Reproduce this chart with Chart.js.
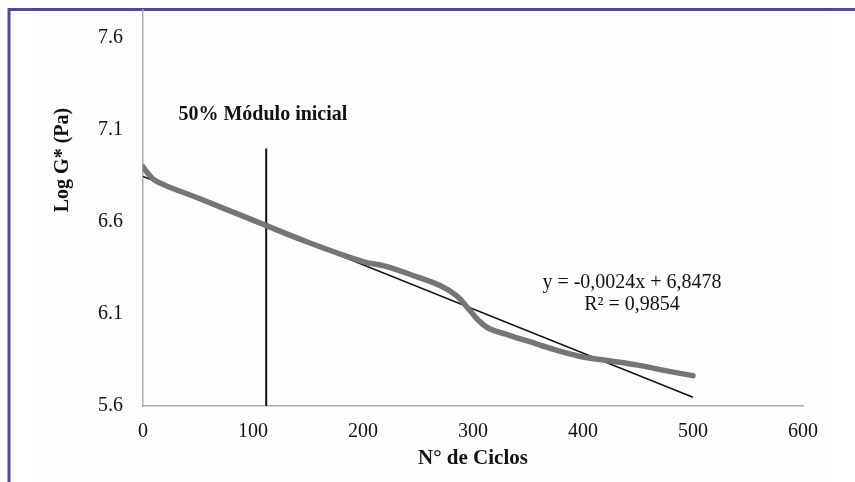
<!DOCTYPE html>
<html lang="pt">
<head>
    <meta charset="UTF-8">
    <title>Log G* x N° de Ciclos</title>
    <script src="https://cdn.jsdelivr.net/npm/chart.js@4.4.1/dist/chart.umd.min.js"></script>
    <style>
        html, body { margin: 0; padding: 0; background: #ffffff; }
        #wrap { width: 855px; height: 482px; }
    </style>
</head>
<body>
    <div id="wrap"><canvas id="myChart" width="855" height="482"></canvas></div>

    <script>
        var cycles = [0, 5, 10, 20, 50, 100, 150, 200, 220, 250, 270, 285, 295, 305, 315, 330, 350, 375, 400, 425, 450, 475, 500];
        var logG = [6.90, 6.86, 6.83, 6.80, 6.73, 6.61, 6.49, 6.385, 6.36, 6.30, 6.255, 6.20, 6.135, 6.065, 6.02, 5.99, 5.952, 5.905, 5.866, 5.845, 5.822, 5.792, 5.765];

        // linear trend y = -0,0024x + 6,8478
        var trendX = [0, 500];
        var trendY = [6.8478, 5.6478];

        // 50% initial modulus marker
        var markerX = [112, 112];
        var markerY = [5.6, 7.0];

        var yTicks = [5.6, 6.1, 6.6, 7.1, 7.6];
        var xTicks = [0, 100, 200, 300, 400, 500, 600];

        function pts(xs, ys) {
            return xs.map(function (x, i) { return { x: x, y: ys[i] }; });
        }

        var serif = "'Liberation Serif', 'Times New Roman', serif";

        // frame, axis title and text labels
        var extras = {
            id: 'extras',
            beforeDraw: function (chart) {
                var ctx = chart.ctx;
                ctx.save();
                ctx.fillStyle = '#fdfdfd';
                ctx.fillRect(33, 11, 792, 471);
                ctx.strokeStyle = '#5147a0';
                ctx.lineWidth = 3;
                ctx.beginPath();
                ctx.moveTo(9, 482);
                ctx.lineTo(9, 9.5);
                ctx.lineTo(855, 9.5);
                ctx.stroke();
                ctx.restore();
            },
            afterDraw: function (chart) {
                var ctx = chart.ctx;
                var xs = chart.scales.x, ys = chart.scales.y;
                ctx.save();
                ctx.fillStyle = '#111111';
                ctx.textAlign = 'center';
                ctx.textBaseline = 'middle';

                ctx.font = 'bold 20px ' + serif;
                ctx.fillText('50% Módulo inicial', xs.getPixelForValue(109), ys.getPixelForValue(7.1) - 15);

                ctx.font = '20px ' + serif;
                ctx.fillText('y = -0,0024x + 6,8478', 632, 283);
                ctx.fillText('R² = 0,9854', 632, 305);

                ctx.translate(63, 160);
                ctx.rotate(-Math.PI / 2);
                ctx.font = 'bold 20px ' + serif;
                ctx.fillText('Log G* (Pa)', 0, 0);
                ctx.restore();
            }
        };

        var myChart = new Chart('myChart', {
            type: 'scatter',
            data: {
                datasets: [{
                    label: 'Log G*',
                    data: pts(cycles, logG),
                    showLine: true,
                    borderColor: '#757575',
                    borderWidth: 5.5,
                    pointRadius: 0,
                    tension: 0.4,
                    borderCapStyle: 'round'
                }, {
                    label: 'Tendência',
                    data: pts(trendX, trendY),
                    showLine: true,
                    borderColor: '#111111',
                    borderWidth: 1.5,
                    pointRadius: 0
                }, {
                    label: '50% Módulo inicial',
                    data: pts(markerX, markerY),
                    showLine: true,
                    borderColor: '#111111',
                    borderWidth: 2,
                    pointRadius: 0
                }]
            },
            options: {
                responsive: false,
                animation: false,
                events: [],
                layout: { padding: { top: 10, right: 52, left: 0, bottom: 0 } },
                plugins: {
                    legend: { display: false },
                    tooltip: { enabled: false }
                },
                scales: {
                    x: {
                        type: 'linear',
                        min: 0,
                        max: 600,
                        afterBuildTicks: function (scale) {
                            scale.ticks = xTicks.map(function (v) { return { value: v }; });
                        },
                        afterFit: function (scale) {
                            scale.height = 76;
                            scale.paddingLeft = 0;
                            scale.paddingRight = 0;
                        },
                        grid: { display: false, drawTicks: false },
                        border: { display: true, color: '#ababab', width: 1.5 },
                        ticks: {
                            padding: 14,
                            color: '#111111',
                            font: { family: serif, size: 20 },
                            maxRotation: 0,
                            callback: function (v) { return String(v); }
                        },
                        title: {
                            display: true,
                            text: 'N° de Ciclos',
                            color: '#111111',
                            font: { family: serif, size: 21, weight: 'bold' },
                            padding: { top: 0, bottom: 11 }
                        }
                    },
                    y: {
                        type: 'linear',
                        min: 5.6,
                        max: 7.752,
                        afterBuildTicks: function (scale) {
                            scale.ticks = yTicks.map(function (v) { return { value: v }; });
                        },
                        afterFit: function (scale) {
                            scale.width = 143;
                            scale.paddingTop = 0;
                            scale.paddingBottom = 0;
                        },
                        grid: { display: false, drawTicks: false },
                        border: { display: true, color: '#ababab', width: 1.5 },
                        ticks: {
                            padding: 20,
                            color: '#111111',
                            font: { family: serif, size: 20 },
                            callback: function (v) { return v.toFixed(1); }
                        }
                    }
                }
            },
            plugins: [extras]
        });
    </script>
</body>
</html>
